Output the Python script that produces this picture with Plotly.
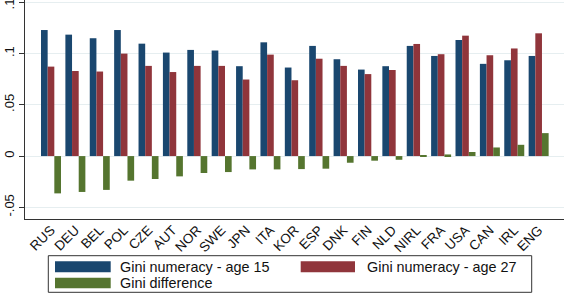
import plotly.graph_objects as go

countries = ["RUS", "DEU", "BEL", "POL", "CZE", "AUT", "NOR", "SWE", "JPN", "ITA", "KOR",
             "ESP", "DNK", "FIN", "NLD", "NIRL", "FRA", "USA", "CAN", "IRL", "ENG"]
gini_15 = [0.123, 0.1185, 0.115, 0.123, 0.1097, 0.101, 0.1036, 0.103, 0.0877, 0.111, 0.0864,
           0.1075, 0.0945, 0.0844, 0.0877, 0.1075, 0.0977, 0.1133, 0.090, 0.0935, 0.0977]
gini_27 = [0.0873, 0.083, 0.0825, 0.100, 0.088, 0.082, 0.088, 0.088, 0.0747, 0.099, 0.074,
           0.095, 0.088, 0.080, 0.084, 0.1094, 0.0994, 0.1175, 0.0984, 0.105, 0.1198]
gini_diff = [-0.0364, -0.035, -0.033, -0.024, -0.0224, -0.0198, -0.0165, -0.0156, -0.013, -0.013,
             -0.0127, -0.0123, -0.0065, -0.0045, -0.0036, 0.001, 0.0016, 0.004, 0.0084, 0.011, 0.0224]
ytick_vals = [-0.05, 0, 0.05, 0.1, 0.15]
ytick_text = ["-.05", "0", ".05", ".1", ".15"]

blue = "#1a476f"
red = "#90353b"
green = "#55752f"
series = [("Gini numeracy - age 15", gini_15, blue),
          ("Gini numeracy - age 27", gini_27, red),
          ("Gini difference", gini_diff, green)]

fig = go.Figure()
for name, vals, col in series:
    fig.add_trace(go.Bar(x=countries, y=vals, name=name, marker_color=col,
                         marker_line_width=0, showlegend=False))

W, H = 573, 298
L, R, T, B = 25, 9, 0, 79
pw, ph = W - L - R, H - T - B

def px(x):
    return (x - L) / pw

def py(y):
    return (H - B - y) / ph

shapes = [dict(type="rect", xref="paper", yref="paper", x0=px(48.3), x1=px(531.7),
               y0=py(292.3), y1=py(255.7), line=dict(color="#333333", width=1),
               fillcolor="white")]
annotations = []
legend_items = [(series[0], 55, 110.7, 261.3, 272.3, 118),
                (series[1], 300.7, 355, 261.3, 272.3, 365),
                (series[2], 55, 110.7, 277.7, 288.3, 118)]
for (name, _, col), x0, x1, y0, y1, tx in legend_items:
    shapes.append(dict(type="rect", xref="paper", yref="paper", x0=px(x0), x1=px(x1),
                       y0=py(y1), y1=py(y0), line=dict(width=0), fillcolor=col))
    annotations.append(dict(xref="paper", yref="paper", x=px(tx), y=py((y0 + y1) / 2),
                            text=name, showarrow=False, xanchor="left", yanchor="middle",
                            font=dict(size=14.4, color="#111111")))

fig.update_layout(
    width=W, height=H,
    margin=dict(l=L, r=R, t=T, b=B, autoexpand=False),
    paper_bgcolor="white", plot_bgcolor="white",
    barmode="group", bargap=0.18, bargroupgap=0,
    font=dict(family="Liberation Sans, Arial, sans-serif", size=13, color="#111111"),
    xaxis=dict(type="category", range=[-1.066, 21.04], showgrid=False, automargin=False,
               showline=True, linecolor="#333333", linewidth=1,
               ticks="", tickangle=-45, tickfont=dict(size=13.5), ticklabelstandoff=-3),
    yaxis=dict(range=[-0.0614, 0.1523], tickvals=ytick_vals, ticktext=ytick_text,
               tickangle=-90, showgrid=True, gridcolor="#e6eef0", gridwidth=1,
               zeroline=False, showline=True, linecolor="#333333", linewidth=1,
               ticks="outside", ticklen=5, tickcolor="#333333", tickfont=dict(size=13),
               ticklabeloverflow="allow", automargin=False),
    shapes=shapes,
    annotations=annotations,
)

fig.write_html("out.html")
